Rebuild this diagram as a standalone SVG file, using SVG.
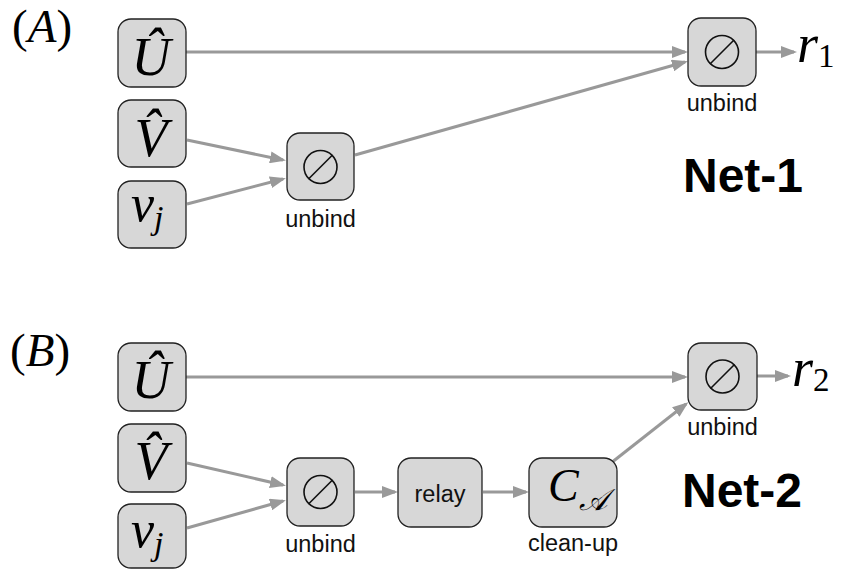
<svg xmlns="http://www.w3.org/2000/svg" width="844" height="571" viewBox="0 0 844 571">
  <defs>
    <marker id="arrow" markerUnits="userSpaceOnUse" markerWidth="16" markerHeight="12" refX="13" refY="6" orient="auto">
      <path d="M0,0 L16,6 L0,12 z" fill="#999999"/>
    </marker>
    <!-- circled slash operator used by the unbind nodes -->
    <g id="oslash" fill="none" stroke="#111111" stroke-width="1.6">
      <circle cx="0" cy="0" r="16.5"/>
      <line x1="-12" y1="12" x2="12" y2="-12"/>
    </g>
    <style>
      .box { fill: #d7d7d7; stroke: #222222; stroke-width: 1.3; }
      .edge { stroke: #999999; stroke-width: 3; fill: none; marker-end: url(#arrow); }
      .math { font-family: "Liberation Serif", "DejaVu Serif", serif; font-style: italic; fill: #000; }
      .up { font-style: normal; }
      .cap { font-family: "Liberation Sans", Arial, sans-serif; font-size: 23.5px; fill: #111; text-anchor: middle; }
      .title { font-family: "Liberation Sans", Arial, sans-serif; font-size: 48px; font-weight: bold; fill: #000; }
      .panel { font-family: "Liberation Serif", serif; font-size: 47px; fill: #000; }
    </style>
  </defs>

  <!-- panel labels -->
  <text class="panel" x="12" y="42">(<tspan font-style="italic">A</tspan>)</text>
  <text class="panel" x="10" y="366">(<tspan font-style="italic">B</tspan>)</text>

  <!-- connectors -->
  <g id="connectors">
    <!-- Net-1 -->
    <line class="edge" x1="186" y1="52" x2="685" y2="52"/>
    <line class="edge" x1="187" y1="140" x2="283" y2="160"/>
    <line class="edge" x1="187" y1="204" x2="283" y2="179"/>
    <line class="edge" x1="355" y1="155" x2="685" y2="62"/>
    <line class="edge" x1="756" y1="52" x2="794" y2="52"/>
    <!-- Net-2 -->
    <line class="edge" x1="186" y1="377" x2="685" y2="377"/>
    <line class="edge" x1="187" y1="463" x2="283" y2="485"/>
    <line class="edge" x1="187" y1="528" x2="283" y2="501"/>
    <line class="edge" x1="355" y1="492" x2="395" y2="492"/>
    <line class="edge" x1="483" y1="492" x2="526" y2="492"/>
    <line class="edge" x1="611" y1="463" x2="686" y2="404"/>
    <line class="edge" x1="757" y1="376" x2="788" y2="376"/>
  </g>

  <!-- Net-1 nodes -->
  <g id="a-u">
    <rect class="box" x="118" y="19" width="68" height="68" rx="13"/>
    <text class="math" x="151" y="75" font-size="54" text-anchor="middle">Û</text>
  </g>
  <g id="a-v">
    <rect class="box" x="118" y="100" width="68" height="67" rx="13"/>
    <text class="math" x="151" y="156" font-size="54" text-anchor="middle">V̂</text>
  </g>
  <g id="a-vj">
    <rect class="box" x="118" y="181" width="68" height="67" rx="13"/>
    <text class="math" x="131" y="221" font-size="52">v<tspan font-size="34" dy="8">j</tspan></text>
  </g>
  <g id="a-unbind1">
    <rect class="box" x="287" y="133" width="67" height="67" rx="13"/>
    <use href="#oslash" x="320.5" y="167"/>
    <text class="cap" x="320.5" y="227">unbind</text>
  </g>
  <g id="a-unbind2">
    <rect class="box" x="688" y="18" width="68" height="68" rx="13"/>
    <use href="#oslash" x="722" y="52"/>
    <text class="cap" x="722" y="111">unbind</text>
  </g>
  <g id="a-r1">
    <text class="math" x="797" y="62" font-size="54">r<tspan class="up" font-size="33" dy="5">1</tspan></text>
  </g>
  <text class="title" x="683" y="192">Net-1</text>

  <!-- Net-2 nodes -->
  <g id="b-u">
    <rect class="box" x="118" y="343" width="68" height="68" rx="13"/>
    <text class="math" x="151" y="398" font-size="54" text-anchor="middle">Û</text>
  </g>
  <g id="b-v">
    <rect class="box" x="118" y="424" width="68" height="68" rx="13"/>
    <text class="math" x="151" y="479" font-size="54" text-anchor="middle">V̂</text>
  </g>
  <g id="b-vj">
    <rect class="box" x="118" y="504" width="68" height="64" rx="13"/>
    <text class="math" x="131" y="547" font-size="52">v<tspan font-size="34" dy="8">j</tspan></text>
  </g>
  <g id="b-unbind1">
    <rect class="box" x="287" y="458" width="67" height="68" rx="13"/>
    <use href="#oslash" x="320.5" y="492"/>
    <text class="cap" x="320.5" y="552">unbind</text>
  </g>
  <g id="b-relay">
    <rect class="box" x="398" y="458" width="84" height="69" rx="13"/>
    <text class="cap" x="440" y="502">relay</text>
  </g>
  <g id="b-cleanup">
    <rect class="box" x="529" y="458" width="88" height="69" rx="13"/>
    <text class="math" x="548" y="501" font-size="46">C<tspan dy="9" font-size="30">𝒜</tspan></text>
    <text class="cap" x="573" y="551">clean-up</text>
  </g>
  <g id="b-unbind2">
    <rect class="box" x="688" y="343" width="69" height="67" rx="13"/>
    <use href="#oslash" x="722.5" y="376.5"/>
    <text class="cap" x="722.5" y="435">unbind</text>
  </g>
  <g id="b-r2">
    <text class="math" x="792" y="386" font-size="54">r<tspan class="up" font-size="33" dy="5">2</tspan></text>
  </g>
  <text class="title" x="682" y="507">Net-2</text>
</svg>
